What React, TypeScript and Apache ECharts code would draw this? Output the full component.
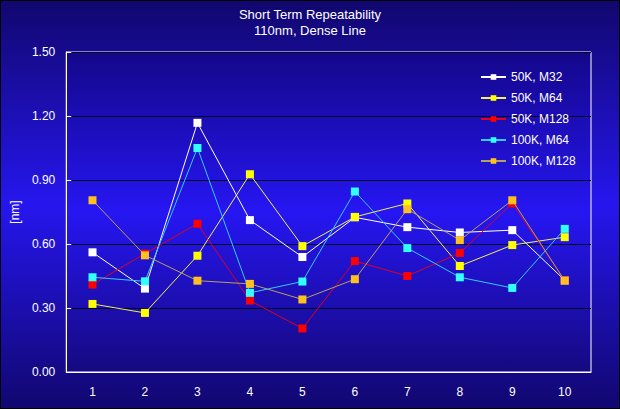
import React, { useEffect, useRef } from "react";
import * as echarts from "echarts";

const categories = ["1", "2", "3", "4", "5", "6", "7", "8", "9", "10"];
const seriesNames = ["50K, M32", "50K, M64", "50K, M128", "100K, M64", "100K, M128"];
const s50kM32 = [0.561, 0.391, 1.168, 0.712, 0.539, 0.725, 0.679, 0.654, 0.665, 0.43];
const s50kM64 = [0.319, 0.277, 0.545, 0.927, 0.59, 0.727, 0.79, 0.497, 0.595, 0.632];
const s50kM128 = [0.41, 0.555, 0.695, 0.335, 0.204, 0.52, 0.45, 0.558, 0.791, 0.43];
const s100kM64 = [0.444, 0.425, 1.05, 0.371, 0.424, 0.846, 0.581, 0.444, 0.394, 0.671];
const s100kM128 = [0.805, 0.547, 0.428, 0.413, 0.34, 0.435, 0.763, 0.618, 0.805, 0.428];
const markerColors = ["#ffffff", "#ffff00", "#ff0000", "#33ffff", "#ffc020"];
const lineColors = ["#ffffff", "#f0f060", "#e00020", "#33ccff", "#b8a060"];

export default function App() {
  const ref = useRef<HTMLDivElement>(null);
  useEffect(() => {
    document.body.style.margin = "0";
    if (!ref.current) return;
    const chart = echarts.init(ref.current, undefined, { renderer: "svg" });
    const all = [s50kM32, s50kM64, s50kM128, s100kM64, s100kM128];
    const font = "'Liberation Sans', Arial, sans-serif";
    chart.setOption({
      animation: false,
      backgroundColor: new echarts.graphic.LinearGradient(0, 0, 0, 1, [
        { offset: 0, color: "#11076e" },
        { offset: 0.5, color: "#2616ee" },
        { offset: 1, color: "#110770" },
      ]),
      title: {
        text: "Short Term Repeatability",
        subtext: "110nm, Dense Line",
        left: "center",
        top: 2,
        itemGap: 3,
        textStyle: {
          color: "#ffffff",
          fontSize: 13,
          fontWeight: "normal",
          fontFamily: font,
        },
        subtextStyle: {
          color: "#ffffff",
          fontSize: 13,
          fontFamily: font,
        },
      },
      legend: {
        orient: "vertical",
        left: 474,
        top: 65,
        itemWidth: 25,
        itemHeight: 7,
        itemGap: 9,
        data: seriesNames,
        textStyle: { color: "#ffffff", fontSize: 12, fontFamily: font },
      },
      grid: {
        left: 64,
        top: 51,
        right: 28,
        bottom: 36,
        show: true,
        borderColor: "#ffffff",
        borderWidth: 1,
        backgroundColor: new echarts.graphic.LinearGradient(0, 0, 0, 1, [
          { offset: 0, color: "#14078a" },
          { offset: 0.5, color: "#2616f2" },
          { offset: 1, color: "#160980" },
        ]),
      },
      xAxis: {
        type: "category",
        data: categories,
        boundaryGap: true,
        axisLine: { lineStyle: { color: "#ffffff", width: 1 } },
        axisTick: { inside: true, length: 5, lineStyle: { color: "#ffffff" } },
        axisLabel: { color: "#ffffff", fontSize: 12, fontFamily: font, margin: 14 },
        splitLine: { show: false },
      },
      yAxis: {
        type: "value",
        min: 0,
        max: 1.5,
        interval: 0.3,
        name: "[nm]",
        nameLocation: "middle",
        nameGap: 44,
        nameRotate: 90,
        nameTextStyle: { color: "#ffffff", fontSize: 12, fontFamily: font },
        axisLine: { show: true, lineStyle: { color: "#ffffff", width: 1 } },
        axisTick: { show: true, inside: true, length: 5, lineStyle: { color: "#ffffff" } },
        axisLabel: {
          color: "#ffffff",
          fontSize: 12,
          fontFamily: font,
          margin: 11,
          formatter: (v: number) => v.toFixed(2),
        },
        splitLine: { show: true, lineStyle: { color: "#000020", width: 1 } },
      },
      series: all.map((d, i) => ({
        name: seriesNames[i],
        type: "line",
        data: d,
        symbol: "rect",
        symbolSize: 8,
        itemStyle: { color: markerColors[i] },
        lineStyle: { color: lineColors[i], width: 1 },
        z: 2 + i,
      })),
    });
    return () => chart.dispose();
  }, []);
  return (
    <div
      ref={ref}
      style={{ width: 620, height: 409, boxSizing: "border-box", border: "1px solid #000" }}
    />
  );
}
